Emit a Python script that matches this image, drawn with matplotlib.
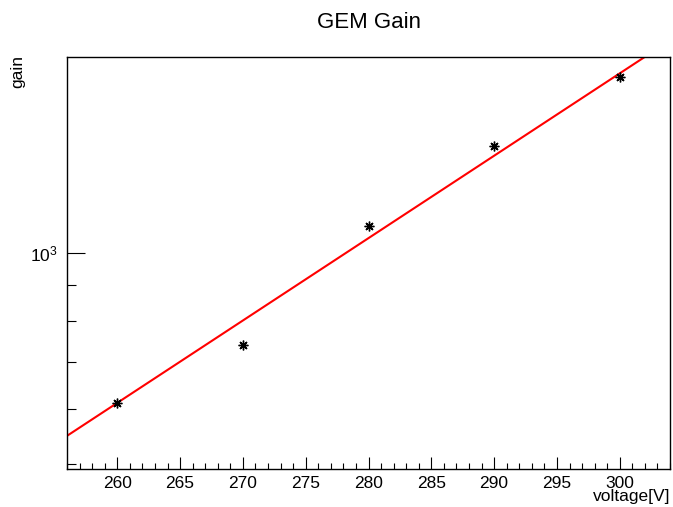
import numpy as np
import matplotlib
matplotlib.use("Agg")
import matplotlib.pyplot as plt
from matplotlib.ticker import FixedLocator, MultipleLocator, NullFormatter

plt.rcParams['font.family'] = ['Liberation Sans', 'DejaVu Sans']

# measured GEM gain vs applied voltage
voltage = [260, 270, 280, 290, 300]
gain = [612, 739, 1093, 1423, 1784]

# exponential fit: gain = exp(FIT_CONST + FIT_SLOPE * V)
FIT_CONST = -0.62
FIT_SLOPE = 0.02706
FIT_RANGE = (256, 304)

fig = plt.figure(figsize=(6.73, 5.07), dpi=100)
ax = fig.add_axes([67 / 673, 1 - 469 / 507, 603 / 673, 412 / 507])

v_fit = np.linspace(FIT_RANGE[0], FIT_RANGE[1], 200)
ax.plot(v_fit, np.exp(FIT_CONST + FIT_SLOPE * v_fit), color='#ff0000', linewidth=1.5, zorder=2)
ax.plot(voltage, gain, linestyle='none', marker=(8, 2, 0), markersize=7,
        markeredgewidth=1.0, color='black', zorder=3)

ax.set_yscale('log')
ax.set_xlim(256, 304)
ax.set_ylim(492, 1904)

ax.xaxis.set_major_locator(MultipleLocator(5))
ax.xaxis.set_minor_locator(MultipleLocator(1))
ax.yaxis.set_major_locator(FixedLocator([1000]))
ax.yaxis.set_minor_locator(FixedLocator([500, 600, 700, 800, 900]))
ax.yaxis.set_minor_formatter(NullFormatter())
ax.set_yticklabels([r'$\mathregular{10^{3}}$'])

ax.tick_params(axis='x', which='major', direction='in', length=8.6, width=0.8,
               labelsize=12.5, pad=5, top=False)
ax.tick_params(axis='x', which='minor', direction='in', length=4.3, width=0.8, top=False)
ax.tick_params(axis='y', which='major', direction='in', length=13, width=0.8,
               labelsize=12.5, pad=7, right=False)
ax.tick_params(axis='y', which='minor', direction='in', length=6.5, width=0.8, right=False)

for spine in ax.spines.values():
    spine.set_linewidth(1.0)

fig.text(369 / 673, 1 - 22 / 507, 'GEM Gain', ha='center', va='center', fontsize=16)
fig.text(18 / 673, 1 - 55 / 507, 'gain', ha='center', va='top', rotation=90, fontsize=12.5)
fig.text(670 / 673, 1 - 497 / 507, 'voltage[V]', ha='right', va='center', fontsize=12.5)

fig.savefig('out.png', dpi=100)
